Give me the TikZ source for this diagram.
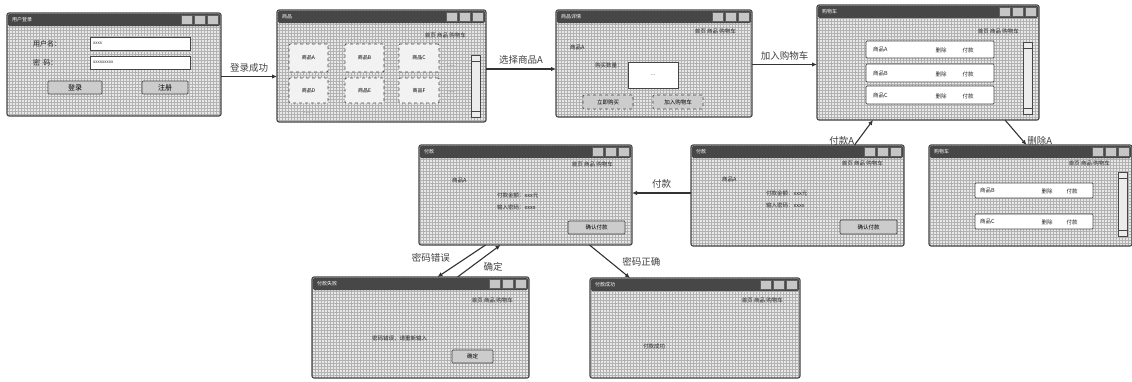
\documentclass[tikz,border=0pt]{standalone}
\usepackage{fontspec}
\setmainfont{Noto Sans CJK SC}
\usetikzlibrary{arrows.meta,patterns,calc,positioning}
\tikzset{
  x=1pt, y=-1pt,
  winbox/.style={inner sep=0pt, outer sep=0pt, rounded corners=2pt,
    preaction={fill=gray!18}, pattern=grid, pattern color=gray!60},
  winborder/.style={draw=gray!55!black, line width=1.1pt, rounded corners=2pt},
  tbar/.style={fill=black!72},
  tbtn/.style={fill=gray!45, draw=gray!75!black, line width=0.4pt},
  wtitle/.style={font=\fontsize{5}{6}\selectfont, text=white, inner sep=0pt},
  wtxt/.style={font=\fontsize{7}{8}\selectfont, text=black!85, inner sep=0pt},
  stxt/.style={font=\fontsize{5.5}{6}\selectfont, text=black!85, inner sep=0pt},
  tiny/.style={font=\fontsize{4.5}{5}\selectfont, text=black!80, inner sep=0pt},
  inbox/.style={draw=gray!55!black, fill=white, line width=0.7pt, inner sep=0pt},
  btn/.style={draw=gray!55!black, fill=gray!40, line width=0.7pt, rounded corners=1pt, inner sep=0pt, font=\fontsize{7}{8}\selectfont},
  sbtn/.style={draw=gray!55!black, fill=gray!40, line width=0.7pt, dashed, rounded corners=1pt, inner sep=0pt, font=\fontsize{5.5}{6}\selectfont},
  item/.style={draw=gray!55!black, fill=gray!10, line width=0.7pt, dashed, rounded corners=1pt, inner sep=0pt, font=\fontsize{5}{6}\selectfont},
  rowbox/.style={draw=gray!55!black, fill=white, line width=0.7pt, rounded corners=1pt, inner sep=0pt},
  sbar/.style={draw=gray!55!black, fill=gray!15, line width=0.6pt, inner sep=0pt},
  alabel/.style={font=\fontsize{9.5}{11}\selectfont, text=black!75, inner sep=1pt},
  arr/.style={-{Latex[length=5pt,width=4.5pt]}, line width=1.1pt, draw=black!80},
}
\newcommand\uiwin[6]{%
  \node[winbox, minimum width={#4-#2}, minimum height={#5-#3}] (#1) at ({(#2+#4)/2},{(#3+#5)/2}) {};
  \fill[tbar, rounded corners=1.5pt] (#2+0.8,#3+0.8) rectangle (#4-0.8,#3+13);
  \node[wtitle, anchor=west] (#1-t) at (#2+5,#3+7) {#6};
  \foreach \k in {0,1,2} {\draw[tbtn] (#4-3-\k*13,#3+2.5) rectangle ++(-11,8.5);}
  \draw[winborder] (#1.north west) rectangle (#1.south east);
}
\newcommand\uibox[7]{%
  \node[#1, minimum width={#5-#3}, minimum height={#6-#4}] (#2) at ({(#3+#5)/2},{(#4+#6)/2}) {#7};
}
\newcommand\sbarat[5]{%
  \uibox{sbar}{#1}{#2}{#3}{#4}{#5}{}
  \draw[gray!55!black, line width=0.4pt] (#2,#3+6) -- (#4,#3+6) (#2,#5-6) -- (#4,#5-6);
}
\begin{document}
\begin{tikzpicture}
\useasboundingbox[fill=white] (0,0) rectangle (1132,381);

% ---------------- login
\uiwin{login}{7}{13}{221}{116}{用户登录}
\node[wtxt, anchor=west] (l-u) at (33,44) {用户名：};
\uibox{inbox}{l-in1}{90}{37}{190}{50}{}
\node[tiny, anchor=west] (l-x1) at (93,43.5) {xxxx};
\node[wtxt, anchor=west] (l-p) at (33,63) {密\ \ 码：};
\uibox{inbox}{l-in2}{90}{56}{190}{69}{}
\node[tiny, anchor=west] (l-x2) at (93,62.5) {xxxxxxxxx};
\uibox{btn}{l-b1}{48}{81}{102}{94}{登录}
\uibox{btn}{l-b2}{142}{81}{188}{94}{注册}

% ---------------- product list
\uiwin{prod}{277}{10}{486}{122}{商品}
\node[stxt, anchor=east] (p-nav) at (466,35) {首页\ 商品\ 购物车};
\uibox{item}{p-a}{289}{44}{328}{72}{商品A}
\uibox{item}{p-b}{345}{44}{384}{72}{商品B}
\uibox{item}{p-c}{399}{44}{439}{72}{商品C}
\uibox{item}{p-d}{289}{78}{328}{103}{商品D}
\uibox{item}{p-e}{345}{78}{384}{103}{商品E}
\uibox{item}{p-f}{399}{78}{439}{103}{商品F}
\node[tiny] (p-m1) at (451,66) {......};
\node[tiny] (p-m2) at (451,92) {......};
\node[tiny] (p-m3) at (308,113) {......};
\sbarat{p-s}{471}{55}{480}{117}

% ---------------- detail
\uiwin{det}{556}{10}{752}{117}{商品详情}
\node[stxt, anchor=east] (d-nav) at (736,31) {首页\ 商品\ 购物车};
\node[stxt, anchor=west] (d-n) at (570,47) {商品A};
\node[stxt, anchor=west] (d-q) at (595,65) {购买数量：};
\uibox{inbox}{d-in}{628}{62}{678}{88}{\tiny ...}
\uibox{sbtn}{d-b1}{583}{95}{633}{109}{立即购买}
\uibox{sbtn}{d-b2}{653}{95}{703}{109}{加入购物车}

% ---------------- cart
\uiwin{cart}{817}{5}{1039}{120}{购物车}
\node[stxt, anchor=east] (c-nav) at (1019,31) {首页\ 商品\ 购物车};
\uibox{rowbox}{c-r1}{866}{41}{994}{58}{}
\uibox{rowbox}{c-r2}{866}{64}{994}{82}{}
\uibox{rowbox}{c-r3}{866}{86}{994}{104}{}
\node[stxt, anchor=west] (c-a) at (873,49.5) {商品A};
\node[stxt] (c-a1) at (941,50.5) {删除};
\node[stxt] (c-a2) at (968,50.5) {付款};
\node[stxt, anchor=west] (c-b) at (873,73) {商品B};
\node[stxt] (c-b1) at (941,74) {删除};
\node[stxt] (c-b2) at (968,74) {付款};
\node[stxt, anchor=west] (c-c) at (873,95) {商品C};
\node[stxt] (c-c1) at (941,96) {删除};
\node[stxt] (c-c2) at (968,96) {付款};
\sbarat{c-s}{1023}{42}{1032}{114}

% ---------------- pay A
\uiwin{payA}{691}{145}{904}{246}{付款}
\node[stxt, anchor=east] (a-nav) at (883,163) {首页\ 商品\ 购物车};
\node[stxt, anchor=west] (a-n) at (722,179) {商品A};
\node[stxt, anchor=west] (a-m) at (766,193) {付款金额：xxx元};
\node[stxt, anchor=west] (a-w) at (766,205) {输入密码：xxxx};
\uibox{btn}{a-b}{840}{220}{897}{234}{\fontsize{5.5}{6}\selectfont 确认付款}

% ---------------- delete result
\uiwin{del}{929}{145}{1132}{246}{购物车}
\node[stxt, anchor=east] (e-nav) at (1110,163) {首页\ 商品\ 购物车};
\uibox{rowbox}{e-r1}{975}{183}{1093}{198}{}
\uibox{rowbox}{e-r2}{975}{214}{1093}{229}{}
\node[stxt, anchor=west] (e-b) at (980,190) {商品B};
\node[stxt] (e-b1) at (1047,191) {删除};
\node[stxt] (e-b2) at (1072,191) {付款};
\node[stxt, anchor=west] (e-c) at (980,221) {商品C};
\node[stxt] (e-c1) at (1047,222) {删除};
\node[stxt] (e-c2) at (1072,222) {付款};
\sbarat{e-s}{1118}{172}{1127}{236}

% ---------------- pay
\uiwin{pay}{419}{145}{632}{245}{付款}
\node[stxt, anchor=east] (y-nav) at (613,164) {首页\ 商品\ 购物车};
\node[stxt, anchor=west] (y-n) at (452,180) {商品A};
\node[stxt, anchor=west] (y-m) at (497,195) {付款金额：xxx元};
\node[stxt, anchor=west] (y-w) at (497,207) {输入密码：xxxx};
\uibox{btn}{y-b}{568}{221}{625}{234}{\fontsize{5.5}{6}\selectfont 确认付款}

% ---------------- error
\uiwin{err}{312}{277}{529}{378}{付款失败}
\node[stxt, anchor=east] (r-nav) at (513,300) {首页\ 商品\ 购物车};
\node[stxt, anchor=west] (r-t) at (372,338) {密码错误，请重新输入};
\uibox{btn}{r-b}{452}{350}{493}{363}{\fontsize{5.5}{6}\selectfont 确定}

% ---------------- success
\uiwin{ok}{590}{278}{800}{378}{付款成功}
\node[stxt, anchor=east] (s-nav) at (783,300) {首页\ 商品\ 购物车};
\node[stxt, anchor=west] (s-t) at (643,346) {付款成功};

% ---------------- connectors
\draw[arr] ([yshift=-12pt]login.east) -- ([yshift=-12pt]login.east -| prod.west)
  node[alabel, midway, above=3pt] {登录成功};
\draw[arr] ([yshift=-3pt]prod.east) -- ([yshift=-3pt]prod.east -| det.west)
  node[alabel, midway, above=3pt] {选择商品A};
\draw[arr] ([yshift=-1pt]det.east) -- ([yshift=-1pt]det.east -| cart.west)
  node[alabel, midway, above=3pt] {加入购物车};
\draw[arr] ([xshift=57pt]payA.north) -- ([xshift=-55pt]cart.south)
  node[alabel, midway, anchor=east, xshift=-8pt, yshift=-8pt] {付款A};
\draw[arr] ([xshift=77pt]cart.south) -- ([xshift=-4pt]del.north)
  node[alabel, midway, anchor=west, xshift=10pt, yshift=-8pt] {删除A};
\draw[arr] ([yshift=2.5pt]payA.west) -- ([yshift=2.5pt]payA.west -| pay.east)
  node[alabel, midway, above=3pt] {付款};
\draw[arr] ([xshift=-40pt]pay.south) -- ([xshift=17pt]err.north)
  node[alabel, midway, anchor=south east, xshift=-10pt, yshift=-3pt] {密码错误};
\draw[arr] ([xshift=37pt]err.north) -- ([xshift=-25pt]pay.south)
  node[alabel, midway, anchor=north west, xshift=3pt] {确定};
\draw[arr] ([xshift=64pt]pay.south) -- ([xshift=-65pt]ok.north)
  node[alabel, midway, anchor=west, xshift=11pt] {密码正确};
\end{tikzpicture}
\end{document}
